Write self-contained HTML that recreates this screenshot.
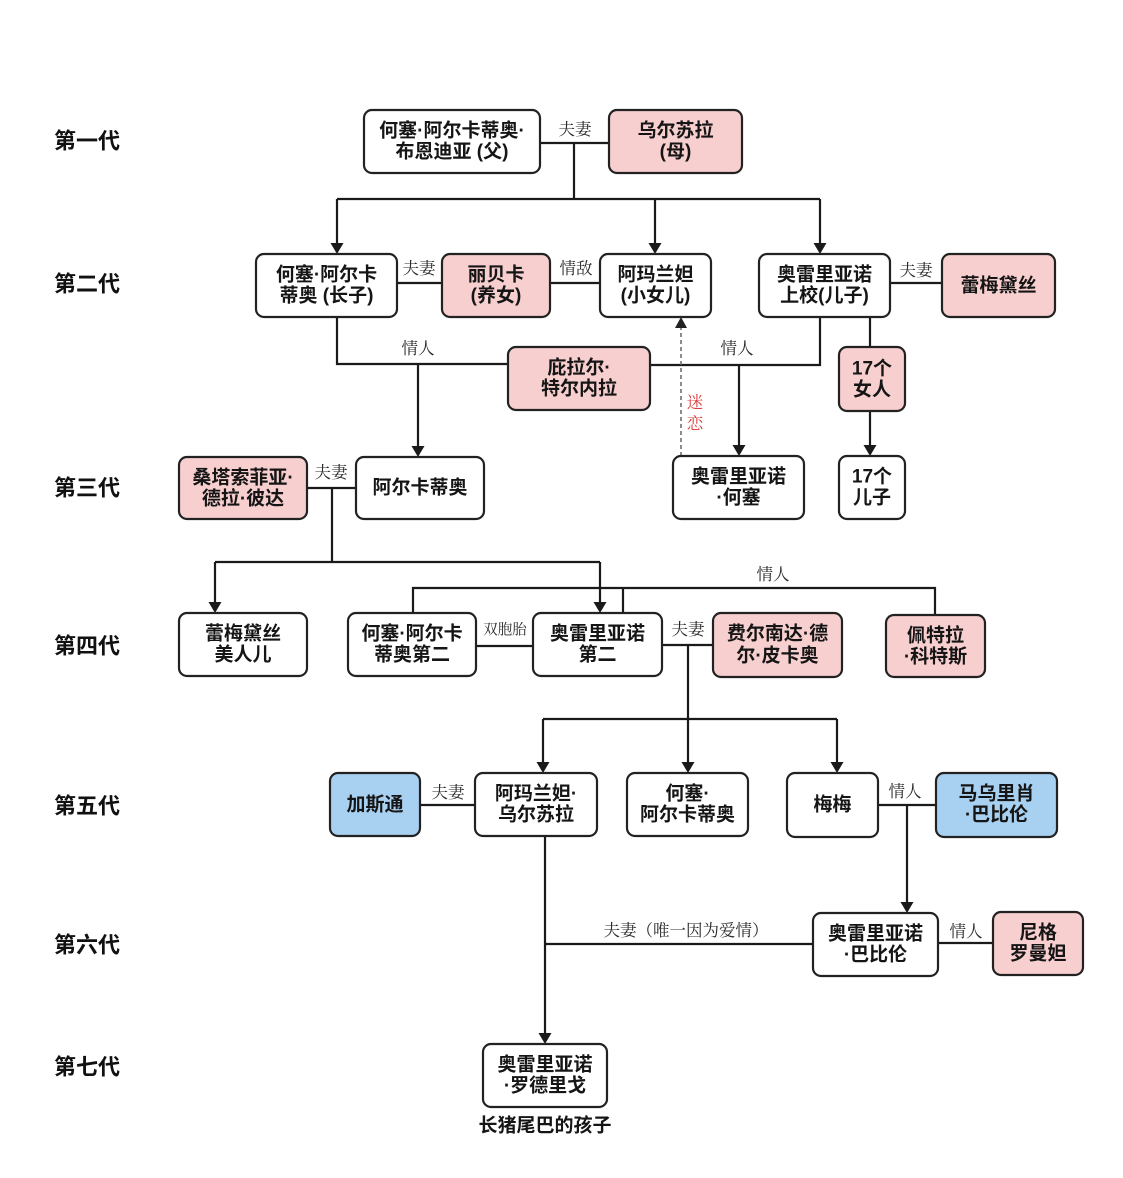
<!DOCTYPE html>
<html>
<head>
<meta charset="utf-8">
<style>
  html, body { margin: 0; padding: 0; background: #ffffff; }
  svg { display: block; }
  .node { stroke: #222; stroke-width: 2.2; }
  .w { fill: #ffffff; }
  .p { fill: #f8cfcf; }
  .b { fill: #a8d0f0; }
  .nt { font-family: "Liberation Sans", "Noto Sans CJK SC", sans-serif; font-weight: 700; font-size: 19px; fill: #151515; }
  .gl { font-family: "Liberation Sans", "Noto Sans CJK SC", sans-serif; font-weight: 700; font-size: 22px; fill: #111; }
  .el { font-family: "Noto Serif CJK SC", "Liberation Serif", serif; font-size: 16.5px; fill: #2a2a2a; }
  .ln { stroke: #1a1a1a; stroke-width: 2.2; fill: none; }
  .ar { fill: #1a1a1a; }
</style>
</head>
<body>
<svg width="1123" height="1178" viewBox="0 0 1123 1178" xmlns="http://www.w3.org/2000/svg">
  <rect x="0" y="0" width="1123" height="1178" fill="#ffffff"/>

  <!-- generation labels -->
  <g class="gl" text-anchor="middle" dominant-baseline="central">
    <text x="87" y="141">第一代</text>
    <text x="87" y="284">第二代</text>
    <text x="87" y="488">第三代</text>
    <text x="87" y="646">第四代</text>
    <text x="87" y="806">第五代</text>
    <text x="87" y="945">第六代</text>
    <text x="87" y="1067">第七代</text>
  </g>

  <!-- connectors -->
  <g class="ln">
    <line x1="540" y1="143" x2="609" y2="143"/>
    <line x1="574" y1="143" x2="574" y2="199"/>
    <line x1="337" y1="199" x2="820" y2="199"/>
    <line x1="337" y1="199" x2="337" y2="246"/>
    <line x1="655" y1="199" x2="655" y2="246"/>
    <line x1="820" y1="199" x2="820" y2="246"/>
    <line x1="397" y1="283" x2="442" y2="283"/>
    <line x1="550" y1="283" x2="600" y2="283"/>
    <line x1="890" y1="283" x2="942" y2="283"/>
    <line x1="870" y1="317" x2="870" y2="347"/>
    <line x1="870" y1="411" x2="870" y2="448"/>
    <polyline points="820,317 820,365 650,365"/>
    <line x1="739" y1="365" x2="739" y2="448"/>
    <polyline points="337,317 337,364 508,364"/>
    <line x1="418" y1="364" x2="418" y2="449"/>
    <line x1="307" y1="488" x2="356" y2="488"/>
    <line x1="332" y1="488" x2="332" y2="562"/>
    <line x1="215" y1="562" x2="600" y2="562"/>
    <line x1="215" y1="562" x2="215" y2="605"/>
    <line x1="600" y1="562" x2="600" y2="605"/>
    <polyline points="413,613 413,588 935,588 935,615"/>
    <line x1="623" y1="588" x2="623" y2="613"/>
    <line x1="476" y1="646" x2="533" y2="646"/>
    <line x1="662" y1="645" x2="713" y2="645"/>
    <line x1="688" y1="645" x2="688" y2="765"/>
    <line x1="543" y1="719" x2="837" y2="719"/>
    <line x1="543" y1="719" x2="543" y2="765"/>
    <line x1="837" y1="719" x2="837" y2="765"/>
    <line x1="420" y1="805" x2="475" y2="805"/>
    <line x1="878" y1="805" x2="936" y2="805"/>
    <line x1="907" y1="805" x2="907" y2="905"/>
    <line x1="545" y1="836" x2="545" y2="1036"/>
    <line x1="545" y1="944" x2="813" y2="944"/>
    <line x1="938" y1="943" x2="993" y2="943"/>
  </g>

  <!-- dashed infatuation line -->
  <line x1="681" y1="456" x2="681" y2="326" stroke="#666" stroke-width="1.5" stroke-dasharray="4,3"/>
  <path d="M675,328 L687,328 L681,317 Z" fill="#222"/>

  <!-- arrowheads (down) -->
  <g class="ar">
    <path d="M330.5,243 L343.5,243 L337,254 Z"/>
    <path d="M648.5,243 L661.5,243 L655,254 Z"/>
    <path d="M813.5,243 L826.5,243 L820,254 Z"/>
    <path d="M863.5,445 L876.5,445 L870,456 Z"/>
    <path d="M732.5,445 L745.5,445 L739,456 Z"/>
    <path d="M411.5,446 L424.5,446 L418,457 Z"/>
    <path d="M208.5,602 L221.5,602 L215,613 Z"/>
    <path d="M593.5,602 L606.5,602 L600,613 Z"/>
    <path d="M681.5,762 L694.5,762 L688,773 Z"/>
    <path d="M536.5,762 L549.5,762 L543,773 Z"/>
    <path d="M830.5,762 L843.5,762 L837,773 Z"/>
    <path d="M900.5,902 L913.5,902 L907,913 Z"/>
    <path d="M538.5,1033 L551.5,1033 L545,1044 Z"/>
  </g>

  <!-- nodes -->
  <g>
    <rect class="node w" x="364" y="110" width="176" height="63" rx="8"/>
    <rect class="node p" x="609" y="110" width="133" height="63" rx="8"/>
    <rect class="node w" x="256" y="254" width="141" height="63" rx="8"/>
    <rect class="node p" x="442" y="254" width="108" height="63" rx="8"/>
    <rect class="node w" x="600" y="254" width="111" height="63" rx="8"/>
    <rect class="node w" x="759" y="254" width="131" height="63" rx="8"/>
    <rect class="node p" x="942" y="254" width="113" height="63" rx="8"/>
    <rect class="node p" x="508" y="347" width="142" height="63" rx="8"/>
    <rect class="node p" x="839" y="347" width="66" height="64" rx="8"/>
    <rect class="node p" x="179" y="457" width="128" height="62" rx="8"/>
    <rect class="node w" x="356" y="457" width="128" height="62" rx="8"/>
    <rect class="node w" x="673" y="456" width="131" height="63" rx="8"/>
    <rect class="node w" x="839" y="456" width="66" height="63" rx="8"/>
    <rect class="node w" x="179" y="613" width="128" height="63" rx="8"/>
    <rect class="node w" x="348" y="613" width="128" height="63" rx="8"/>
    <rect class="node w" x="533" y="613" width="129" height="63" rx="8"/>
    <rect class="node p" x="713" y="613" width="129" height="64" rx="8"/>
    <rect class="node p" x="886" y="615" width="99" height="62" rx="8"/>
    <rect class="node b" x="330" y="773" width="90" height="63" rx="8"/>
    <rect class="node w" x="475" y="773" width="122" height="63" rx="8"/>
    <rect class="node w" x="627" y="773" width="121" height="63" rx="8"/>
    <rect class="node w" x="787" y="773" width="91" height="64" rx="8"/>
    <rect class="node b" x="936" y="773" width="121" height="64" rx="8"/>
    <rect class="node w" x="813" y="913" width="125" height="63" rx="8"/>
    <rect class="node p" x="993" y="912" width="90" height="63" rx="8"/>
    <rect class="node w" x="483" y="1044" width="124" height="63" rx="8"/>
  </g>

  <!-- node text -->
  <g class="nt" text-anchor="middle" dominant-baseline="central">
    <text x="452" y="131">何塞·阿尔卡蒂奥·</text>
    <text x="452" y="152">布恩迪亚 (父)</text>
    <text x="675.5" y="131">乌尔苏拉</text>
    <text x="675.5" y="152">(母)</text>
    <text x="326.5" y="275">何塞·阿尔卡</text>
    <text x="326.5" y="296">蒂奥 (长子)</text>
    <text x="496" y="275">丽贝卡</text>
    <text x="496" y="296">(养女)</text>
    <text x="655.5" y="275">阿玛兰妲</text>
    <text x="655.5" y="296">(小女儿)</text>
    <text x="824.5" y="275">奥雷里亚诺</text>
    <text x="824.5" y="296">上校(儿子)</text>
    <text x="998.5" y="286">蕾梅黛丝</text>
    <text x="579" y="368">庇拉尔·</text>
    <text x="579" y="389">特尔内拉</text>
    <text x="872" y="369">17个</text>
    <text x="872" y="390">女人</text>
    <text x="243" y="478">桑塔索菲亚·</text>
    <text x="243" y="499">德拉·彼达</text>
    <text x="420" y="488">阿尔卡蒂奥</text>
    <text x="738.5" y="477">奥雷里亚诺</text>
    <text x="738.5" y="498">·何塞</text>
    <text x="872" y="477">17个</text>
    <text x="872" y="498">儿子</text>
    <text x="243" y="634">蕾梅黛丝</text>
    <text x="243" y="655">美人儿</text>
    <text x="412" y="634">何塞·阿尔卡</text>
    <text x="412" y="655">蒂奥第二</text>
    <text x="597.5" y="634">奥雷里亚诺</text>
    <text x="597.5" y="655">第二</text>
    <text x="777.5" y="634">费尔南达·德</text>
    <text x="777.5" y="656">尔·皮卡奥</text>
    <text x="935.5" y="636">佩特拉</text>
    <text x="935.5" y="657">·科特斯</text>
    <text x="375" y="805">加斯通</text>
    <text x="536" y="794">阿玛兰妲·</text>
    <text x="536" y="815">乌尔苏拉</text>
    <text x="687.5" y="794">何塞·</text>
    <text x="687.5" y="815">阿尔卡蒂奥</text>
    <text x="832.5" y="805">梅梅</text>
    <text x="996.5" y="794">马乌里肖</text>
    <text x="996.5" y="815">·巴比伦</text>
    <text x="875.5" y="934">奥雷里亚诺</text>
    <text x="875.5" y="955">·巴比伦</text>
    <text x="1038" y="933">尼格</text>
    <text x="1038" y="954">罗曼妲</text>
    <text x="545" y="1065">奥雷里亚诺</text>
    <text x="545" y="1086">·罗德里戈</text>
    <text x="545" y="1126">长猪尾巴的孩子</text>
  </g>

  <!-- edge labels -->
  <g class="el" text-anchor="middle" dominant-baseline="central">
    <text x="575" y="128">夫妻</text>
    <text x="419" y="267">夫妻</text>
    <text x="576" y="267">情敌</text>
    <text x="916" y="269">夫妻</text>
    <text x="418" y="347">情人</text>
    <text x="737" y="347">情人</text>
    <text x="331" y="471">夫妻</text>
    <text x="505" y="629" style="font-size:14.5px">双胞胎</text>
    <text x="688" y="628">夫妻</text>
    <text x="773" y="573">情人</text>
    <text x="448" y="791">夫妻</text>
    <text x="905" y="790">情人</text>
    <text x="966" y="930">情人</text>
    <text x="686" y="929">夫妻（唯一因为爱情）</text>
  </g>
  <g class="el" text-anchor="middle" dominant-baseline="central" style="fill:#d9423f">
    <text x="695" y="401">迷</text>
    <text x="695" y="422">恋</text>
  </g>
</svg>
</body>
</html>
